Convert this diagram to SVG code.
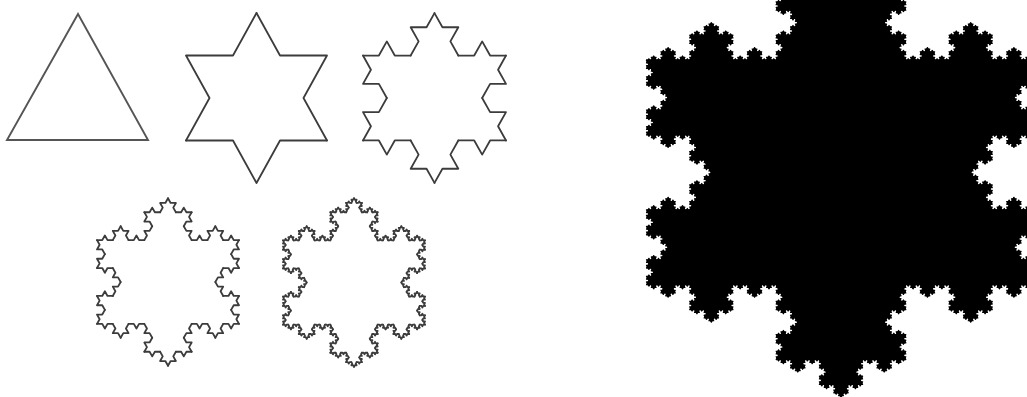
<svg xmlns="http://www.w3.org/2000/svg" width="1027" height="397" viewBox="0 0 1027 397">
<style>
.k{fill:none;stroke:#3c3c3c;stroke-width:1.8;stroke-linecap:round;stroke-linejoin:round;vector-effect:non-scaling-stroke}
.d .k{stroke:#2a2a2a;stroke-width:2}
.t{fill:none;stroke:#555;stroke-width:1.9;stroke-linejoin:miter}
.f{fill:#000;stroke:#000;stroke-width:1.2;stroke-linejoin:round;vector-effect:non-scaling-stroke}
</style>
<defs>
<path id="K1" class="k" d="M0 0L0.333333 0L0.5 -0.288675L0.666667 0L1 0"/>
<g id="K2"><use href="#K1" transform="scale(0.333333)"/><use href="#K1" transform="translate(0.333333 0) rotate(-60) scale(0.333333)"/><use href="#K1" transform="translate(0.5 -0.288675) rotate(60) scale(0.333333)"/><use href="#K1" transform="translate(0.666667 0) scale(0.333333)"/></g>
<g id="K3"><use href="#K2" transform="scale(0.333333)"/><use href="#K2" transform="translate(0.333333 0) rotate(-60) scale(0.333333)"/><use href="#K2" transform="translate(0.5 -0.288675) rotate(60) scale(0.333333)"/><use href="#K2" transform="translate(0.666667 0) scale(0.333333)"/></g>
<g id="K4"><use href="#K3" transform="scale(0.333333)"/><use href="#K3" transform="translate(0.333333 0) rotate(-60) scale(0.333333)"/><use href="#K3" transform="translate(0.5 -0.288675) rotate(60) scale(0.333333)"/><use href="#K3" transform="translate(0.666667 0) scale(0.333333)"/></g>
<polygon id="F1" class="f" points="0.333333,0 0.5,-0.288675 0.666667,0"/>
<g id="F2"><use href="#F1"/><use href="#F1" transform="scale(0.333333)"/><use href="#F1" transform="translate(0.333333 0) rotate(-60) scale(0.333333)"/><use href="#F1" transform="translate(0.5 -0.288675) rotate(60) scale(0.333333)"/><use href="#F1" transform="translate(0.666667 0) scale(0.333333)"/></g>
<g id="F3"><use href="#F1"/><use href="#F2" transform="scale(0.333333)"/><use href="#F2" transform="translate(0.333333 0) rotate(-60) scale(0.333333)"/><use href="#F2" transform="translate(0.5 -0.288675) rotate(60) scale(0.333333)"/><use href="#F2" transform="translate(0.666667 0) scale(0.333333)"/></g>
<g id="F4"><use href="#F1"/><use href="#F3" transform="scale(0.333333)"/><use href="#F3" transform="translate(0.333333 0) rotate(-60) scale(0.333333)"/><use href="#F3" transform="translate(0.5 -0.288675) rotate(60) scale(0.333333)"/><use href="#F3" transform="translate(0.666667 0) scale(0.333333)"/></g>
<g id="F5"><use href="#F1"/><use href="#F4" transform="scale(0.333333)"/><use href="#F4" transform="translate(0.333333 0) rotate(-60) scale(0.333333)"/><use href="#F4" transform="translate(0.5 -0.288675) rotate(60) scale(0.333333)"/><use href="#F4" transform="translate(0.666667 0) scale(0.333333)"/></g>
</defs>
<rect width="1027" height="397" fill="#fff"/>
<g id="level0">
<polygon class="t" points="78,14 148,140 7,140"/>
</g>
<g id="level1" transform="translate(256.5 98) scale(141 147.2)">
<use href="#K1" transform="translate(0 -0.57735) rotate(60)"/>
<use href="#K1" transform="translate(0.5 0.288675) rotate(180)"/>
<use href="#K1" transform="translate(-0.5 0.288675) rotate(-60)"/>
</g>
<g id="level2" transform="translate(434.5 98) scale(143 147)">
<use href="#K2" transform="translate(0 -0.57735) rotate(60)"/>
<use href="#K2" transform="translate(0.5 0.288675) rotate(180)"/>
<use href="#K2" transform="translate(-0.5 0.288675) rotate(-60)"/>
</g>
<g id="level3" class="d" transform="translate(168 282) scale(142 145)">
<use href="#K3" transform="translate(0 -0.57735) rotate(60)"/>
<use href="#K3" transform="translate(0.5 0.288675) rotate(180)"/>
<use href="#K3" transform="translate(-0.5 0.288675) rotate(-60)"/>
</g>
<g id="level4" class="d" transform="translate(354 282.5) scale(142 146)">
<use href="#K4" transform="translate(0 -0.57735) rotate(60)"/>
<use href="#K4" transform="translate(0.5 0.288675) rotate(180)"/>
<use href="#K4" transform="translate(-0.5 0.288675) rotate(-60)"/>
</g>
<g id="filled" transform="translate(841 172.4) scale(389)">
<polygon class="f" points="0,-0.57735 0.166667,-0.288675 0.5,-0.288675 0.333333,0 0.5,0.288675 0.166667,0.288675 0,0.57735 -0.166667,0.288675 -0.5,0.288675 -0.333333,0 -0.5,-0.288675 -0.166667,-0.288675"/>
<use href="#F5" transform="translate(0 -0.57735) rotate(60)"/>
<use href="#F5" transform="translate(0.5 0.288675) rotate(180)"/>
<use href="#F5" transform="translate(-0.5 0.288675) rotate(-60)"/>
</g>
</svg>
